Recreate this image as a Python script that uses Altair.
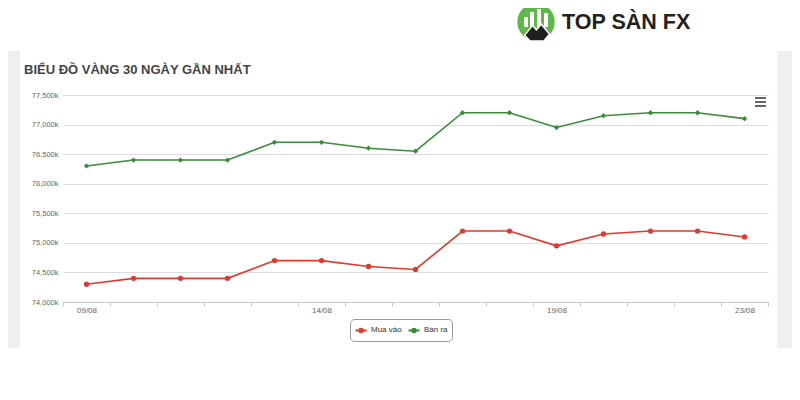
import altair as alt
import pandas as pd

# ---- data ----
dates = ["09/08", "10/08", "11/08", "12/08", "13/08", "14/08", "15/08", "16/08",
         "17/08", "18/08", "19/08", "20/08", "21/08", "22/08", "23/08"]
mua_vao = [74300, 74400, 74400, 74400, 74700, 74700, 74600, 74550,
           75200, 75200, 74950, 75150, 75200, 75200, 75100]
ban_ra = [76300, 76400, 76400, 76400, 76700, 76700, 76600, 76550,
          77200, 77200, 76950, 77150, 77200, 77200, 77100]
series_names = ["Mua vào", "Bán ra"]
series_colors = ["#e0392f", "#3a8c3a"]
series_shapes = ["circle", "diamond"]
shown_labels = ["09/08", "14/08", "19/08", "23/08"]
y_ticks = [74000, 74500, 75000, 75500, 76000, 76500, 77000, 77500]
title_text = "BIỂU ĐỒ VÀNG 30 NGÀY GẦN NHẤT"
logo_text = "TOP SÀN FX"

rows = []
for i, d in enumerate(dates):
    rows.append({"idx": i, "date": d, "series": series_names[0], "value": mua_vao[i]})
    rows.append({"idx": i, "date": d, "series": series_names[1], "value": ban_ra[i]})
df = pd.DataFrame(rows)

W, H = 705, 207
one = pd.DataFrame({"k": [0]})

# x axis: ticks at category boundaries, labels shifted to category centres
bounds = [i - 0.5 for i in range(len(dates) + 1)]
expr_parts = []
for lab in shown_labels:
    expr_parts.append(f"datum.value == {dates.index(lab) - 0.5} ? '{lab}'")
label_expr = " : ".join(expr_parts) + " : ''"

xscale = alt.Scale(domain=[-0.5, len(dates) - 0.5], nice=False, zero=False)
yscale = alt.Scale(domain=[74000, 77500], nice=False, zero=False)

x_axis = alt.Axis(values=bounds, labelExpr=label_expr, labelOffset=23.5,
                  labelOverlap=False, labelBound=False, grid=False,
                  domainColor="#c8c8c8", tickColor="#c8c8c8", tickSize=4,
                  labelFontSize=8, labelColor="#666", labelPadding=0,
                  labelFlush=False)
y_axis = alt.Axis(values=y_ticks, labelExpr="format(datum.value, ',') + 'k'",
                  domain=False, ticks=False, gridColor="#dddddd",
                  labelOverlap=False, labelBound=False, labelFlush=False,
                  labelFontSize=7.5, labelColor="#666", labelPadding=5)


def x_enc():
    return alt.X("idx:Q", scale=xscale, title=None, axis=x_axis)


def y_enc():
    return alt.Y("value:Q", scale=yscale, title=None, axis=y_axis)


legend_path = ("M-1,0L1,0M-0.3,0A0.3,0.3,0,1,1,0.3,0"
               "A0.3,0.3,0,1,1,-0.3,0Z")
color_enc = alt.Color("series:N",
                      scale=alt.Scale(domain=series_names, range=series_colors),
                      legend=alt.Legend(orient="none", legendX=287, legendY=224,
                                        direction="horizontal", title=None,
                                        strokeColor="#9a9a9a", cornerRadius=4,
                                        padding=4, labelFontSize=8, labelColor="#333",
                                        symbolType=legend_path, symbolSize=121,
                                        symbolStrokeWidth=2.2, columnPadding=2,
                                        labelOffset=3),
                      sort=series_names)

lines = alt.Chart(df).mark_line(strokeWidth=1.6).encode(x=x_enc(), y=y_enc(), color=color_enc)

point_layers = []
for name, col, shp in zip(series_names, series_colors, series_shapes):
    point_layers.append(
        alt.Chart(df).transform_filter(alt.datum.series == name)
        .mark_point(filled=True, opacity=1, size=28, shape=shp, color=col)
        .encode(x=x_enc(), y=y_enc())
    )

# ---- decorations ----
gray = "#efefef"
left_strip = alt.Chart(one).mark_rect(color=gray).encode(
    x=alt.value(-55), x2=alt.value(-43), y=alt.value(-44), y2=alt.value(253))
right_strip = alt.Chart(one).mark_rect(color=gray).encode(
    x=alt.value(714), x2=alt.value(729), y=alt.value(-44), y2=alt.value(253))

title = alt.Chart(one).mark_text(text=title_text, align="left", baseline="alphabetic",
                                 fontSize=13, fontWeight="bold", color="#444",
                                 font="Liberation Sans").encode(
    x=alt.value(-39), y=alt.value(-21.5))

menu = [alt.Chart(one).mark_rule(color="#666", strokeWidth=2).encode(
    x=alt.value(692), x2=alt.value(703), y=alt.value(yy)) for yy in (3, 7, 11)]

logo_circle = alt.Chart(one).mark_point(shape="circle", filled=True, opacity=1,
                                        size=1400, color="#5cb947").encode(
    x=alt.value(473), y=alt.value(-73))
logo_bars = [alt.Chart(one).mark_rect(color="white").encode(
    x=alt.value(bx), x2=alt.value(bx + 4), y=alt.value(by), y2=alt.value(-68))
    for bx, by in ((461, -78), (467, -83), (474, -86), (481, -82))]
logo_mtn = alt.Chart(one).mark_point(
    shape="M-1,0.35L-0.35,-0.45L-0.05,-0.1L0.35,-0.55L1,0.25L0.55,0.8L-0.55,0.8Z",
    filled=True, opacity=1, size=620, color="#1f1f1f", stroke="white",
    strokeWidth=1.5).encode(x=alt.value(474), y=alt.value(-64))
logo_txt = alt.Chart(one).mark_text(text=logo_text, align="left", baseline="alphabetic",
                                    fontSize=21.5, fontWeight="bold", color="#222",
                                    font="Liberation Sans").encode(
    x=alt.value(499), y=alt.value(-66))

chart = alt.layer(
    left_strip, right_strip, lines, *point_layers, title, *menu,
    logo_circle, *logo_bars, logo_mtn, logo_txt,
).properties(
    width=W, height=H,
    autosize=alt.AutoSizeParams(type="none"),
    padding={"left": 55, "top": 87, "right": 24, "bottom": 90},
    background="white",
).configure(font="Liberation Sans").configure_view(stroke=None, strokeWidth=0)

chart.save("out.html", embed_options={"renderer": "svg", "actions": False})
